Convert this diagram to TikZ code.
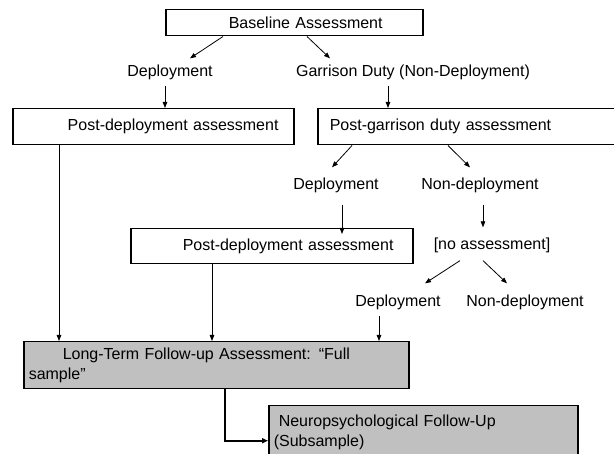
\documentclass[tikz,border=0pt]{standalone}
\usepackage{fontspec}
\setmainfont{Liberation Sans}
\usetikzlibrary{arrows.meta}
\definecolor{boxgray}{RGB}{192,192,192}

\tikzset{
  assessbox/.style={draw, line width=1.5pt, anchor=north west, align=left,
    inner xsep=5pt, inner ysep=0pt, font=\fontsize{16}{20}\selectfont},
  lbl/.style={inner xsep=2pt, inner ysep=6pt, text height=11.5pt,
    text depth=3.4pt, font=\fontsize{16}{20}\selectfont},
  arr/.style={line width=0.8pt, -{Triangle[length=6pt,width=4.5pt]}},
  thickarr/.style={line width=1.8pt, -{Triangle[length=6pt,width=5pt]}}
}

\begin{document}
\begin{tikzpicture}[x=1pt, y=-1pt]
\useasboundingbox (0,0) rectangle (614,454);

%baseline
\node[assessbox, text width=247pt, minimum height=26pt] (base) at (165,9)
  {\hspace*{58pt}Baseline Assessment};
\node[lbl] (dep1) at (170,72) {Deployment};
\node[lbl] (gar) at (413,72) {Garrison Duty (Non-Deployment)};

%first assessments
\node[assessbox, text width=271pt, minimum height=36pt] (postdep1) at (12,108)
  {\hspace*{50pt}Post-deployment assessment};
\node[assessbox, text width=294pt, minimum height=36pt] (postgar) at (317,108)
  {\hspace*{7pt}Post-garrison duty assessment};
\node[lbl] (dep2) at (336,185) {Deployment};
\node[lbl] (nondep2) at (480,185) {Non-deployment};

%second assessments
\node[assessbox, text width=272pt, minimum height=35pt] (postdep2) at (130,228)
  {\hspace*{47pt}Post-deployment assessment};
\node[lbl] (noassess) at (492,245) {[no assessment]};
\node[lbl] (dep3) at (398,302) {Deployment};
\node[lbl] (nondep3) at (525,302) {Non-deployment};

%follow-up
\node[assessbox, fill=boxgray, text width=375pt, minimum height=47pt] (fullfu) at (23,341)
  {\hspace*{34pt}Long-Term Follow-up Assessment: “Full\\sample”};
\node[assessbox, fill=boxgray, text width=299pt, minimum height=54pt] (neuro) at (268,405)
  {\hspace*{5pt}Neuropsychological Follow-Up\\(Subsample)};

%arrows
\draw[arr] ([xshift=58pt]base.south west) -- ([xshift=20pt]dep1.north);
\draw[arr] ([xshift=142pt]base.south west) -- ([xshift=-83pt]gar.north);
\draw[arr] ([xshift=-5pt]dep1.south) -- ([xshift=-5pt]dep1.south |- postdep1.north);
\draw[arr] ([xshift=-25pt]gar.south) -- ([xshift=-25pt]gar.south |- postgar.north);
\draw[arr] ([xshift=35pt]postgar.south west) -- ([xshift=-4pt,yshift=4pt]dep2.north);
\draw[arr] ([xshift=131pt]postgar.south west) -- ([xshift=-10pt,yshift=4pt]nondep2.north);
\draw[arr] ([xshift=6pt,yshift=-6pt]dep2.south) -- ([xshift=6pt,yshift=-6pt]dep2.south |- postdep2.north);
\draw[arr] ([xshift=3pt,yshift=-6pt]nondep2.south) -- ([xshift=-9pt,yshift=4pt]noassess.north);
\draw[arr] ([xshift=-32pt,yshift=-2pt]noassess.south) -- ([xshift=27pt,yshift=5pt]dep3.north);
\draw[arr] ([xshift=-9pt,yshift=-2pt]noassess.south) -- ([xshift=-18pt,yshift=5pt]nondep3.north);
\draw[arr] ([xshift=-19pt]dep3.south) -- ([xshift=-19pt]dep3.south |- fullfu.north);
\draw[arr] ([xshift=47pt]postdep1.south west) -- ([xshift=47pt]postdep1.south west |- fullfu.north);
\draw[arr] ([xshift=82pt]postdep2.south west) -- ([xshift=82pt]postdep2.south west |- fullfu.north);
\draw[thickarr] ([xshift=202pt]fullfu.south west) |- ([yshift=-8pt]neuro.west);
\end{tikzpicture}
\end{document}
